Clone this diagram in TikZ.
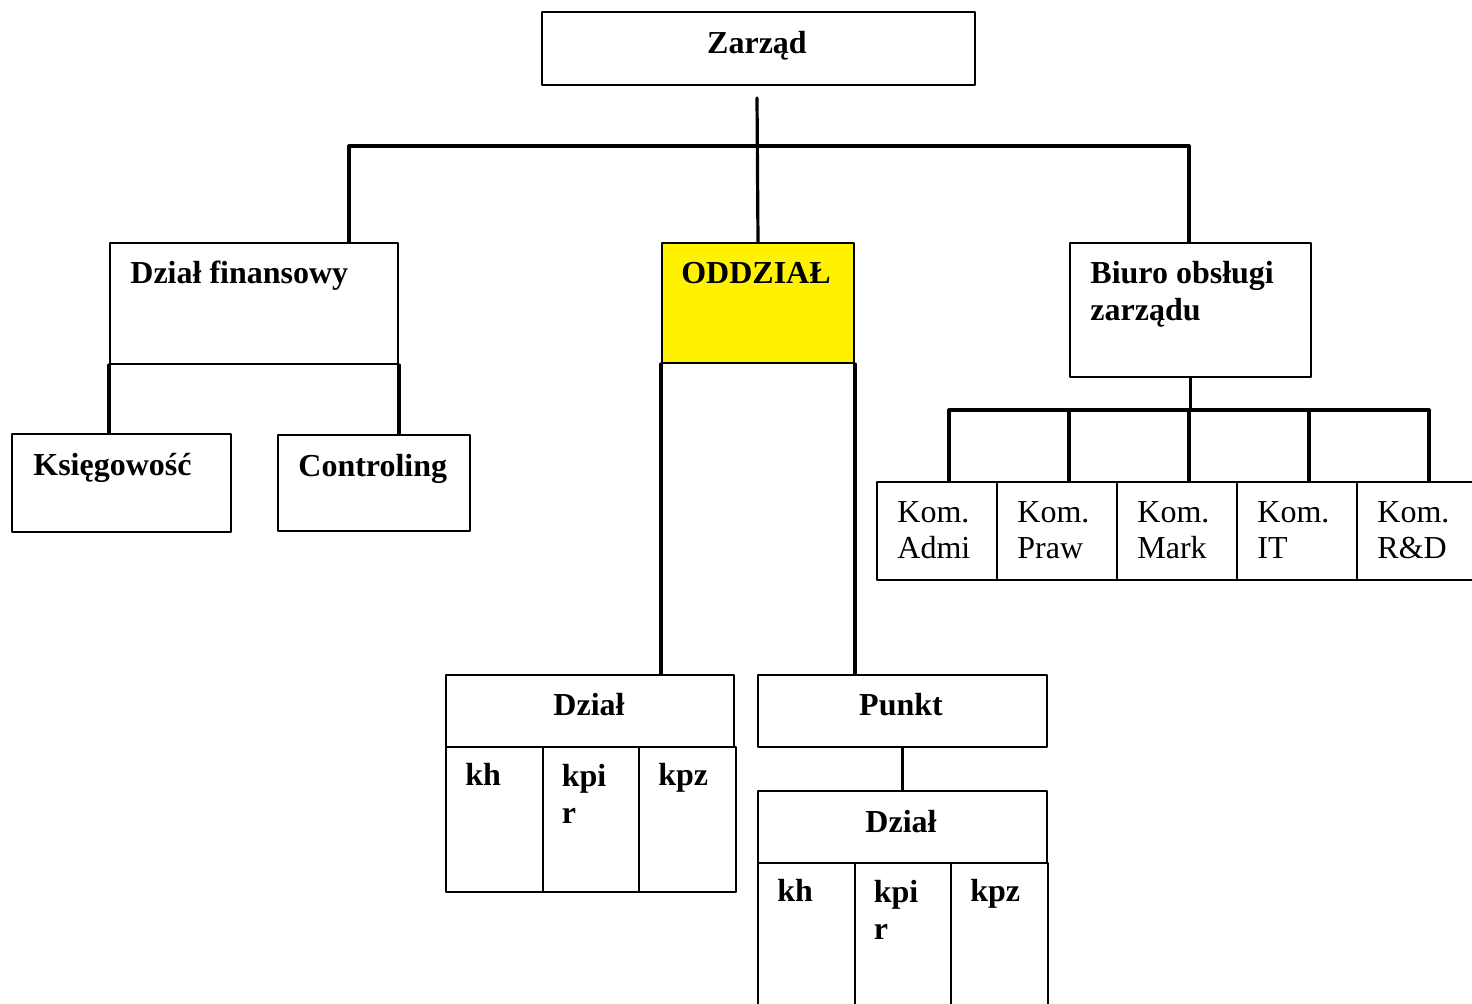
\documentclass[tikz,border=0pt]{standalone}
\usepackage{fontspec}
\setmainfont{Liberation Serif}
\usetikzlibrary{positioning}
\newcommand{\pxu}{0.5pt}

\begin{document}
\begin{tikzpicture}[line cap=round, line join=round, x=0.5pt, y=-0.5pt,
	box/.style={draw, line width=1pt, inner sep=0pt, anchor=north west},
	conn/.style={line width=1.6pt},
	lbl/.style={inner sep=0pt, font=\fontsize{16}{18.5}\selectfont\bfseries, align=left},
	komlbl/.style={inner sep=0pt, font=\fontsize{16}{18}\selectfont, align=left}]
\useasboundingbox (0,0) rectangle (1472,1003);
\clip (0,0) rectangle (1472,1003);
% top level
\node[box, minimum width=433*\pxu, minimum height=73*\pxu] (zarzad) at (541,11) {};
\node[lbl, anchor=base] (zarzadT) at (757,53) {Zarząd};
\node[box, minimum width=288*\pxu, minimum height=121*\pxu] (dfin) at (109,242) {};
\node[lbl, anchor=base west] (dfinT) at (130,283) {Dział finansowy};
\node[box, fill=yellow, minimum width=192*\pxu, minimum height=120*\pxu] (oddzial) at (661,242) {};
\node[lbl, anchor=base] (oddzialT) at (756,283) {ODDZIAŁ};
\node[box, minimum width=241*\pxu, minimum height=134*\pxu] (biuro) at (1069,242) {};
\node[lbl, anchor=base west] (biuroT) at (1090,320) {Biuro obsługi\\zarządu};
\coordinate (zc) at (757,98);
\coordinate (barL) at (349,146);
\coordinate (barR) at (1189,146);
\draw[conn] (barL) -- (barR);
\draw[conn] (zc) -- (oddzial.north);
\draw[conn] (barL) -- (barL |- dfin.north);
\draw[conn] (barR) -- (barR |- biuro.north);
% finanse
\node[box, minimum width=219*\pxu, minimum height=98*\pxu] (ksieg) at (11,433) {};
\node[lbl, anchor=base west] (ksiegT) at (33,475) {Księgowość};
\node[box, minimum width=192*\pxu, minimum height=96*\pxu] (contr) at (277,434) {};
\node[lbl, anchor=base west] (contrT) at (298,476) {Controling};
\draw[conn] (dfin.south west) -- (dfin.south west |- ksieg.north);
\draw[conn] (dfin.south east) -- (dfin.south east |- contr.north);
% oddzial
\node[box, minimum width=288*\pxu, minimum height=72*\pxu] (dzialA) at (445,674) {};
\node[lbl, anchor=base] (dzialAT) at (589,715) {Dział};
\node[box, minimum width=289*\pxu, minimum height=72*\pxu] (punkt) at (757,674) {};
\node[lbl, anchor=base] (punktT) at (901,715) {Punkt};
\node[box, minimum width=289*\pxu, minimum height=72*\pxu] (dzialB) at (757,790) {};
\node[lbl, anchor=base] (dzialBT) at (901,832) {Dział};
\draw[conn] (oddzial.south west) -- (oddzial.south west |- dzialA.north);
\draw[conn] (oddzial.south east) -- (oddzial.south east |- punkt.north);
\draw[conn] (punkt.south) -- (dzialB.north);
\foreach \i/\t/\yb in {0/kh/0,1/{kpi\\r}/38,2/kpz/0}
{
	\node[box, minimum width=96.5*\pxu, minimum height=145*\pxu] (cellA\i) at ({445+96.5*\i},746) {};
	\node[lbl, anchor=base west] (cellAT\i) at ({465+96.5*\i},{785+\yb}) {\t};
	\node[box, minimum width=96.5*\pxu, minimum height=150*\pxu] (cellB\i) at ({757+96.5*\i},862) {};
	\node[lbl, anchor=base west] (cellBT\i) at ({777+96.5*\i},{901+\yb}) {\t};
}
% biuro
\foreach \i/\t in {0/Admi,1/Praw,2/Mark,3/IT,4/R\&D}
{
	\node[box, minimum width=120*\pxu, minimum height=98*\pxu] (kom\i) at ({876+120*\i},481) {};
	\node[komlbl, anchor=base west] (komT\i) at ({897+120*\i},558) {Kom.\\\t};
	\coordinate (kb\i) at ({949+120*\i},410);
	\draw[conn] (kb\i) -- (kb\i |- kom\i.north);
}
\draw[conn] (kb0) -- (kb4);
\draw[conn] (biuro.south) -- (biuro.south |- kb0);
\end{tikzpicture}
\end{document}
